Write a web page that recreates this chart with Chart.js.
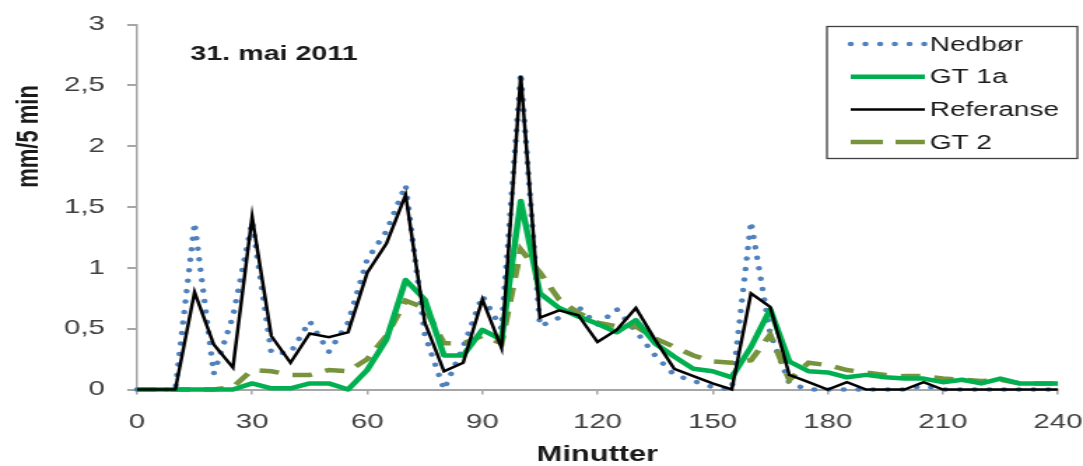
<!DOCTYPE html>
<html>
<head>
<meta charset="utf-8">
<script src="https://cdn.jsdelivr.net/npm/chart.js@4.4.1/dist/chart.umd.min.js"></script>
<style>
  html, body { margin: 0; padding: 0; background: #fff; overflow: hidden; }
  /* the reference is a horizontally stretched Excel picture, so stretch the canvas the same way */
  #wrap { width: 774px; height: 466px; transform: scaleX(1.39922); transform-origin: 0 0; }
</style>
</head>
<body>
<div id="wrap"><canvas id="rainChart" width="774" height="466"></canvas></div>
<script>
// --- data (mm per 5 min, every 5 minutes) ---
const minutes = [0, 5, 10, 15, 20, 25, 30, 35, 40, 45, 50, 55, 60, 65, 70, 75, 80, 85, 90, 95,
    100, 105, 110, 115, 120, 125, 130, 135, 140, 145, 150, 155, 160, 165, 170, 175, 180, 185, 190, 195,
    200, 205, 210, 215, 220, 225, 230, 235, 240];

const nedbor = [0, 0, 0, 1.37, 0.13, 0.60, 1.38, 0.30, 0.30, 0.56, 0.31, 0.55, 1.07, 1.30, 1.68, 0.45, 0.00, 0.35, 0.77, 0.50,
    2.60, 0.52, 0.59, 0.68, 0.53, 0.66, 0.48, 0.28, 0.12, 0.07, 0.02, 0.00, 1.38, 0.46, 0.05, 0.00, 0, 0, 0, 0,
    0, 0.03, 0, 0, 0, 0, 0, 0, 0];

const gt1a = [0, 0, 0, 0, 0, 0, 0.05, 0.01, 0.01, 0.05, 0.05, 0.00, 0.16, 0.41, 0.90, 0.74, 0.28, 0.28, 0.49, 0.41,
    1.55, 0.79, 0.67, 0.60, 0.54, 0.47, 0.57, 0.38, 0.27, 0.17, 0.15, 0.10, 0.35, 0.66, 0.23, 0.15, 0.14, 0.10, 0.12, 0.10,
    0.09, 0.09, 0.06, 0.08, 0.05, 0.09, 0.05, 0.05, 0.05];

const referanse = [0, 0, 0, 0.80, 0.37, 0.18, 1.42, 0.44, 0.22, 0.46, 0.43, 0.47, 0.96, 1.20, 1.60, 0.55, 0.15, 0.22, 0.74, 0.34,
    2.58, 0.59, 0.65, 0.61, 0.39, 0.49, 0.67, 0.41, 0.17, 0.11, 0.05, 0.00, 0.79, 0.68, 0.12, 0.06, 0.00, 0.06, 0.00, 0,
    0, 0.06, 0, 0, 0, 0, 0, 0, 0];

const gt2 = [0, 0, 0, 0, 0, 0.02, 0.16, 0.15, 0.12, 0.12, 0.16, 0.15, 0.25, 0.44, 0.73, 0.67, 0.38, 0.38, 0.44, 0.38,
    1.15, 0.96, 0.74, 0.63, 0.55, 0.52, 0.52, 0.42, 0.35, 0.28, 0.23, 0.22, 0.24, 0.45, 0.08, 0.22, 0.20, 0.16, 0.14, 0.12,
    0.11, 0.11, 0.09, 0.08, 0.07, 0.08, 0.05, 0.05, 0.05];

const chartTitle = '31. mai 2011';
const yTitle = 'mm/5 min';
const xTitle = 'Minutter';

const FONT = '"Liberation Sans", Arial, sans-serif';
const AXIS_GREY = '#a6a6a6';

const toPoints = (values) => minutes.map((m, i) => ({ x: m, y: values[i] }));

// --- title, y title and boxed legend drawn inside the plot ---
const overlayPlugin = {
    id: 'overlay',
    afterDraw(chart) {
        const ctx = chart.ctx;
        ctx.save();

        ctx.fillStyle = '#1a1a1a';
        ctx.font = 'bold 20.5px ' + FONT;
        ctx.textAlign = 'left';
        ctx.textBaseline = 'middle';
        ctx.fillText(chartTitle, 136, 54);

        ctx.save();
        ctx.translate(20.7, 136.5);
        ctx.rotate(-Math.PI / 2);
        ctx.textAlign = 'center';
        ctx.font = 'bold 22px ' + FONT;
        ctx.fillText(yTitle, 0, 0);
        ctx.restore();

        // legend box
        ctx.strokeStyle = '#404040';
        ctx.lineWidth = 1.3;
        ctx.strokeRect(591, 26.5, 179, 132);

        const rowY = [44, 76.7, 109.5, 142];
        chart.data.datasets.forEach((ds, i) => {
            const y = rowY[i];
            ctx.beginPath();
            ctx.strokeStyle = ds.borderColor;
            ctx.lineWidth = ds.borderWidth;
            ctx.lineCap = ds.borderCapStyle || 'butt';
            ctx.setLineDash(ds.legendDash || ds.borderDash || []);
            ctx.moveTo(608, y);
            ctx.lineTo(661, y);
            ctx.stroke();
            ctx.setLineDash([]);
            ctx.fillStyle = '#1a1a1a';
            ctx.font = '20px ' + FONT;
            ctx.textAlign = 'left';
            ctx.fillText(ds.label, 664.5, y + 1);
        });
        ctx.restore();
    }
};

const ctx = document.getElementById('rainChart').getContext('2d');
const rainChart = new Chart(ctx, {
    type: 'line',
    data: {
        datasets: [
            {
                label: 'Nedbør',
                data: toPoints(nedbor),
                borderColor: '#4f81bd',
                borderWidth: 4.5,
                borderDash: [0.01, 10.5],
                borderCapStyle: 'round',
                order: 4
            },
            {
                label: 'GT 1a',
                data: toPoints(gt1a),
                borderColor: '#00b050',
                borderWidth: 4.5,
                borderJoinStyle: 'round',
                order: 2
            },
            {
                label: 'Referanse',
                data: toPoints(referanse),
                borderColor: '#000000',
                borderWidth: 2.5,
                order: 1
            },
            {
                label: 'GT 2',
                data: toPoints(gt2),
                borderColor: '#77933c',
                borderWidth: 4.5,
                borderDash: [14, 10],
                legendDash: [23, 9],
                order: 3
            }
        ]
    },
    options: {
        responsive: false,
        animation: false,
        devicePixelRatio: 1,
        clip: false,
        elements: {
            point: { radius: 0, hoverRadius: 0 },
            line: { tension: 0, fill: false }
        },
        layout: { padding: { top: 24.5, right: 17.9, bottom: 0, left: 0 } },
        plugins: {
            legend: { display: false },
            tooltip: { enabled: false }
        },
        scales: {
            x: {
                type: 'linear',
                min: 0,
                max: 240,
                ticks: {
                    stepSize: 30,
                    color: '#404040',
                    font: { family: FONT, size: 21 },
                    padding: 15.4,
                    maxRotation: 0,
                    autoSkip: false
                },
                grid: { drawOnChartArea: false, tickLength: 5, color: AXIS_GREY, lineWidth: 1.5 },
                border: { color: AXIS_GREY, width: 2 },
                title: {
                    display: true,
                    text: xTitle,
                    color: '#1a1a1a',
                    font: { family: FONT, size: 22, weight: 'bold', lineHeight: 1 },
                    padding: 0
                },
                // keep the plot edges where the reference has them
                afterFit(scale) {
                    scale.height = 76.5;
                    scale.paddingLeft = 0;
                    scale.paddingRight = 0;
                }
            },
            y: {
                min: 0,
                max: 3,
                ticks: {
                    stepSize: 0.5,
                    color: '#404040',
                    font: { family: FONT, size: 21 },
                    padding: 15.9,
                    callback: (v) => String(v).replace('.', ',')
                },
                grid: { drawOnChartArea: false, tickLength: 7, color: AXIS_GREY, lineWidth: 2 },
                border: { color: AXIS_GREY, width: 1.5 },
                afterFit(scale) {
                    scale.width = 97.9;
                    scale.paddingTop = 0;
                    scale.paddingBottom = 0;
                }
            }
        }
    },
    plugins: [overlayPlugin]
});
</script>
</body>
</html>
